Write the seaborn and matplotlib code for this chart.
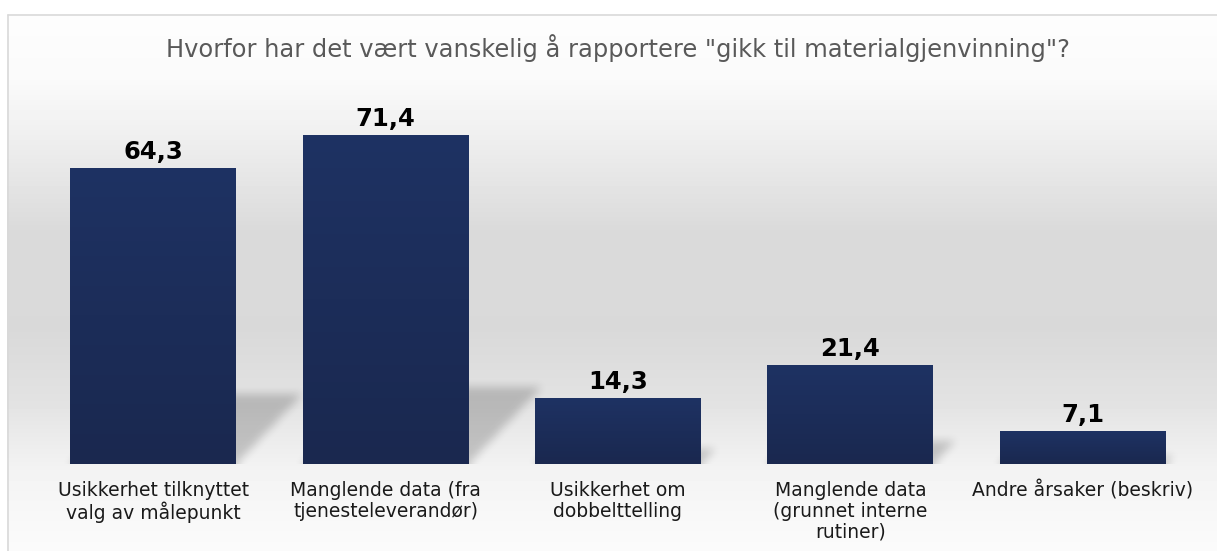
import numpy as np
import pandas as pd
import matplotlib
matplotlib.use("Agg")
import matplotlib.pyplot as plt
import seaborn as sns
from matplotlib.colors import LinearSegmentedColormap
from matplotlib.lines import Line2D

categories = [
    "Usikkerhet tilknyttet\nvalg av målepunkt",
    "Manglende data (fra\ntjenesteleverandør)",
    "Usikkerhet om\ndobbelttelling",
    "Manglende data\n(grunnet interne\nrutiner)",
    "Andre årsaker (beskriv)",
]
values = [64.3, 71.4, 14.3, 21.4, 7.1]
value_labels = ["64,3", "71,4", "14,3", "21,4", "7,1"]
title = 'Hvorfor har det vært vanskelig å rapportere "gikk til materialgjenvinning"?'

W, H = 1217, 551
DPI = 100
sns.set_theme(style="white")
plt.rcParams["font.family"] = ["DejaVu Sans"]

fig = plt.figure(figsize=(W / DPI, H / DPI), dpi=DPI)
fig.patch.set_facecolor("white")

# ---- background gradient (figure level) ----
bg = fig.add_axes([0, 0, 1, 1], zorder=0)
bg.set_axis_off()
stops_y = np.array([14, 80, 150, 230, 330, 400, 440, 470, 551], float)
stops_v = np.array([253, 250, 236, 218, 217, 226, 236, 243, 251], float)
ys = np.arange(H)
col = np.interp(ys, stops_y, stops_v) / 255.0
img = np.repeat(col[:, None], W, axis=1)
img[:14, :] = 1.0
img[:, :7] = 1.0
bg.imshow(img, cmap="gray", vmin=0, vmax=1, extent=[0, W, H, 0], aspect="auto",
          interpolation="nearest")
bg.set_xlim(0, W)
bg.set_ylim(H, 0)
bg.add_line(Line2D([7.5, 7.5], [14.5, H], color="#d9d9d9", lw=1.2))
bg.add_line(Line2D([7.5, W], [14.5, 14.5], color="#d9d9d9", lw=1.2))

# ---- main axes ----
ax_left, ax_right = 37, 1199
ax_top, ax_bot = 100, 464
ax = fig.add_axes([ax_left / W, (H - ax_bot) / H, (ax_right - ax_left) / W,
                   (ax_bot - ax_top) / H], zorder=1)
ax.set_facecolor("none")
ymax = 79.0

df = pd.DataFrame({"cat": categories, "val": values})
sns.barplot(data=df, x="cat", y="val", color="#1c2e5c", width=0.714,
            saturation=1, ax=ax, zorder=3, linewidth=0, edgecolor="none")

# shadows: projected parallelograms behind bars, blurred
nx, ny = ax_right - ax_left, ax_bot - ax_top
xs = -0.5 + (np.arange(nx) + 0.5) / nx * 5.0
yv = ymax - (np.arange(ny) + 0.5) / ny * ymax
XX, YY = np.meshgrid(xs, yv)
mask = np.zeros((ny, nx))
k = 0.95 * (ny / ymax) / (nx / 5.0)  # category units per data unit
for p in ax.patches:
    x0 = p.get_x(); w = p.get_width(); h = p.get_height()
    m = (YY >= 0) & (YY <= 0.235 * h) & (XX >= x0 + k * YY) & (XX <= x0 + w + k * YY)
    mask = np.maximum(mask, m.astype(float))

def box_blur(a, r):
    out = a.copy()
    for axis in (0, 1):
        pad = [(0, 0), (0, 0)]
        pad[axis] = (r + 1, r)
        c = np.cumsum(np.pad(out, pad, mode="edge"), axis=axis)
        if axis == 0:
            out = (c[2 * r + 1:, :] - c[:-2 * r - 1, :]) / (2 * r + 1)
        else:
            out = (c[:, 2 * r + 1:] - c[:, :-2 * r - 1]) / (2 * r + 1)
    return out

blur = box_blur(box_blur(box_blur(mask, 4), 4), 3)
shadow = np.zeros((ny, nx, 4))
shadow[..., 3] = blur * 0.19
ax.imshow(shadow, extent=[-0.5, 4.5, 0, ymax], aspect="auto", zorder=2,
          interpolation="bilinear")

# vertical gradient on bars
cmap = LinearSegmentedColormap.from_list("barg", ["#1a284f", "#1e3263"])
grad = np.linspace(0, 1, 256)[::-1, None]
for p in ax.patches:
    x0 = p.get_x(); w = p.get_width(); h = p.get_height()
    im = ax.imshow(grad, cmap=cmap, extent=[x0, x0 + w, 0, h], aspect="auto", zorder=4)
    im.set_clip_path(p)

for i, (v, lab) in enumerate(zip(values, value_labels)):
    ax.annotate(lab, (i, v), xytext=(0, 6.5), textcoords="offset points",
                ha="center", va="baseline", fontsize=17.5, fontweight="bold",
                color="black", zorder=5)

ax.set_xlim(-0.5, 4.5)
ax.set_ylim(0, ymax)
ax.set_yticks([])
ax.set_xlabel("")
ax.set_ylabel("")
ax.tick_params(axis="x", length=0, pad=12, labelsize=13.5, labelcolor="#1a1a1a")
for lbl in ax.get_xticklabels():
    lbl.set_linespacing(1.13)
for s in ax.spines.values():
    s.set_visible(False)

fig.text((ax_left + ax_right) / 2 / W, 1 - 57 / H, title, ha="center", va="baseline",
         fontsize=17.4, color="#595959")

fig.savefig("out.png", dpi=DPI)
